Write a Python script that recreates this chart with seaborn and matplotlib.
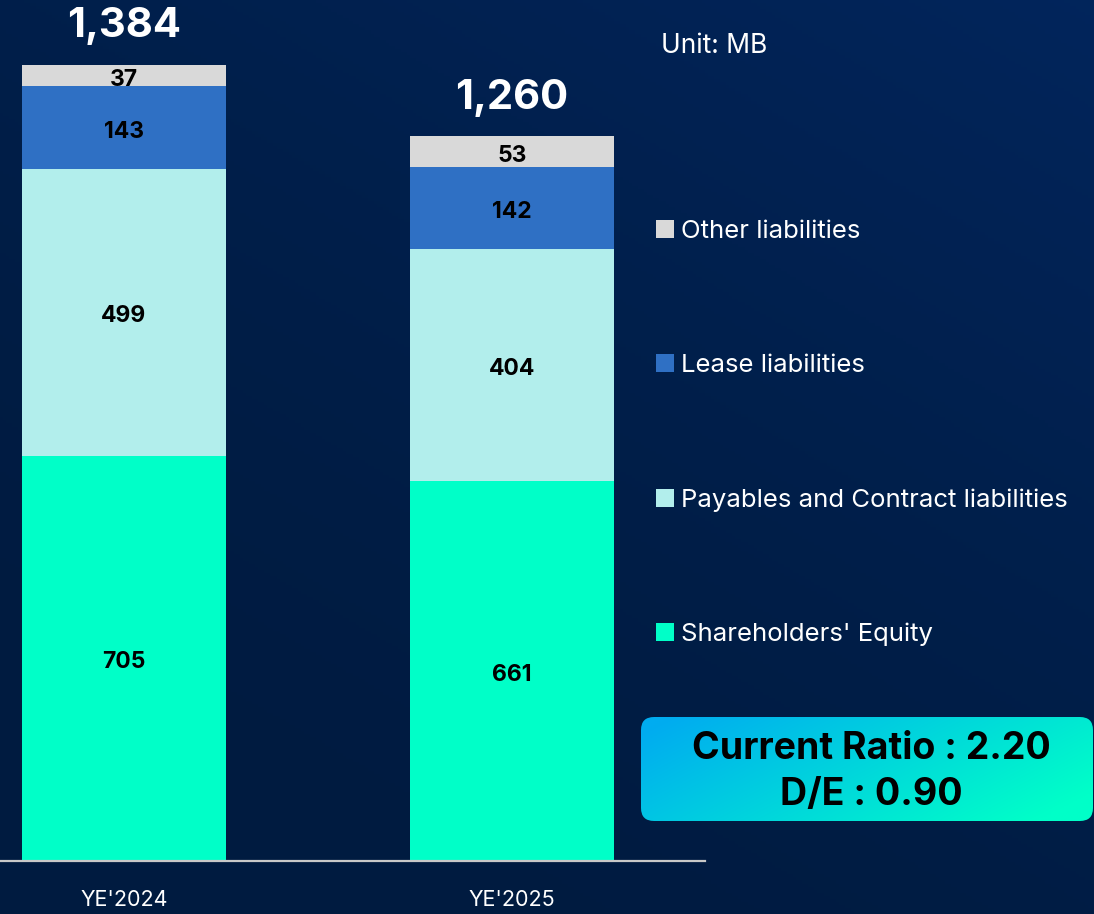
import numpy as np
import pandas as pd
import matplotlib
matplotlib.use("Agg")
import matplotlib.pyplot as plt
import seaborn as sns
from matplotlib.patches import Patch, FancyBboxPatch

# ---------------- data ----------------
categories = ["YE'2024", "YE'2025"]
series_names = ["Shareholders' Equity", "Payables and Contract liabilities",
                "Lease liabilities", "Other liabilities"]
equity = [705, 661]
payables = [499, 404]
lease = [143, 142]
other = [37, 53]
totals = [1384, 1260]
total_labels = ["1,384", "1,260"]
unit_label = "Unit: MB"
ratio_lines = ["Current Ratio : 2.20", "D/E : 0.90"]

colors = ["#00FFC8", "#B2EEEC", "#2F70C4", "#D9D9D9"]

sns.set_theme(style="white")
plt.rcParams["font.family"] = ["Inter", "DejaVu Sans"]

W, H = 1094, 914
fig = plt.figure(figsize=(W / 100, H / 100), dpi=100)

# background gradient
bg = fig.add_axes([0, 0, 1, 1], zorder=0)
yy, xx = np.mgrid[0:1:300j, 0:1:360j]
t = np.clip(0.65 * (1 - yy) + 0.45 * xx - 0.15, 0, 1) ** 1.5
dark = np.array([0, 27, 64]) / 255
light = np.array([2, 38, 94]) / 255
img = dark[None, None, :] * (1 - t[..., None]) + light[None, None, :] * t[..., None]
bg.imshow(img, extent=(0, 1, 0, 1), aspect="auto")
bg.set_axis_off()

# main axes
ax = fig.add_axes([0, 53 / H, 705 / W, 861 / H], zorder=1)
ax.patch.set_alpha(0)

layers = [equity, payables, lease, other]
cums = np.cumsum(np.array(layers), axis=0)
# draw from the tallest cumulative down so lower layers overlay
for k in range(len(layers) - 1, -1, -1):
    df = pd.DataFrame({"category": categories, "value": cums[k]})
    sns.barplot(data=df, x="category", y="value", color=colors[k], saturation=1,
                width=0.526, errorbar=None, ax=ax, zorder=2,
                edgecolor="none", linewidth=0)

# segment labels
for i in range(len(categories)):
    bottom = 0
    for k, vals in enumerate(layers):
        v = vals[i]
        ax.annotate(f"{v}", xy=(i, bottom + v / 2), xytext=(0, -3),
                    textcoords="offset points", ha="center", va="center",
                    fontsize=16.5, fontweight="bold", color="black", zorder=5)
        bottom += v
    ax.annotate(total_labels[i], xy=(i, totals[i]), xytext=(0, 20),
                textcoords="offset points", ha="center", va="baseline",
                fontsize=30, fontweight="bold", color="white", zorder=5)

ax.set_xlim(-124 / 388, 1 + (705 - 512) / 388)
ax.set_ylim(0, 861 / 0.5751)
ax.set_xlabel("")
ax.set_ylabel("")
ax.set_yticks([])
ax.set_xticks([0, 1])
ax.set_xticklabels(categories, color="white", fontsize=15.5)
ax.tick_params(axis="x", length=0, pad=21)
for s in ["top", "right", "left"]:
    ax.spines[s].set_visible(False)
ax.spines["bottom"].set_color("#c8c8c8")
ax.spines["bottom"].set_linewidth(1.6)

# legend
handles = [Patch(facecolor=colors[k], edgecolor="none", label=series_names[k])
           for k in range(3, -1, -1)]
fig.legend(handles=handles, loc="upper left", bbox_to_anchor=(656 / W, 1 - 220 / H),
           frameon=False, fontsize=18.5, labelcolor="white", handlelength=0.7,
           handleheight=0.7, handletextpad=0.27, labelspacing=4.32,
           borderpad=0, borderaxespad=0)

fig.text(661 / W, 1 - 46 / H, unit_label, ha="left", va="center",
         fontsize=19, color="white")

# ratio box with gradient
bax = fig.add_axes([0, 0, 1, 1], zorder=3)
bax.set_axis_off()
bax.set_xlim(0, 1)
bax.set_ylim(0, 1)
by, bx = np.mgrid[0:1:60j, 0:1:240j]
tb = np.clip(0.8 * bx + 0.35 * by - 0.05, 0, 1)
c1 = np.array([0, 172, 240]) / 255
c2 = np.array([0, 255, 200]) / 255
bimg = c1[None, None, :] * (1 - tb[..., None]) + c2[None, None, :] * tb[..., None]
x0, x1 = 641 / W, 1093 / W
y0, y1 = 1 - 821 / H, 1 - 717 / H
im = bax.imshow(bimg, extent=(x0, x1, y0, y1), aspect="auto")
box = FancyBboxPatch((6.41, (H - 821) / 100), 4.52, 1.04,
                     boxstyle="round,pad=0,rounding_size=0.13",
                     transform=fig.dpi_scale_trans, facecolor="none", edgecolor="none")
fig.add_artist(box)
im.set_clip_path(box)

fig.text(871 / W, 1 - 749 / H, ratio_lines[0], ha="center", va="center",
         fontsize=27, fontweight="bold", color="black", zorder=6)
fig.text(871 / W, 1 - 795 / H, ratio_lines[1], ha="center", va="center",
         fontsize=27, fontweight="bold", color="black", zorder=6)

fig.savefig("out.png", dpi=100)
